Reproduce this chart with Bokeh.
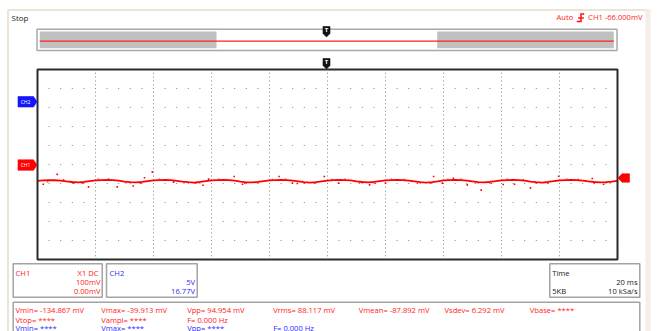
from bokeh.plotting import figure
from bokeh.models import Label, BoxAnnotation, PolyAnnotation
from bokeh.embed import file_html
from bokeh.resources import INLINE

# ---------------- data (CH1, mV, sampled every 2 ms) ----------------
time_ms = list(range(0, 201, 2))
ch1_mv = [-86, -84, -83, -83, -85, -89, -92, -94, -92, -88,
          -84, -82, -81, -82, -85, -90, -93, -94, -92, -87,
          -84, -82, -81, -82, -86, -90, -93, -95, -92, -88,
          -84, -82, -81, -82, -85, -90, -94, -94, -92, -87,
          -84, -82, -81, -82, -85, -89, -93, -95, -93, -89,
          -85, -82, -81, -82, -84, -89, -92, -94, -92, -88,
          -84, -82, -81, -82, -85, -89, -93, -95, -93, -89,
          -84, -82, -81, -82, -85, -89, -93, -94, -92, -88,
          -84, -82, -81, -82, -85, -90, -93, -95, -92, -88,
          -84, -82, -81, -82, -85, -89, -92, -94, -93, -90, -86]

# isolated noise samples (ms, mV)
spike_t = [6.8, 2.0, 17.6, 27.5, 36.9, 33.0, 39.6, 46.9, 57.1, 59.0,
           67.8, 70.7, 83.3, 87.9, 89.6, 98.9, 103.8, 114.5, 120.0, 136.6,
           139.6, 143.4, 148.2, 153.0, 160.6, 164.5, 170.0, 179.7, 191.3, 195.2]
spike_mv = [-52, -104, -118, -118, -70, -113, -40, -93, -109, -77,
            -63, -104, -63, -98, -100, -63, -98, -107, -98, -63,
            -98, -72, -107, -135, -105, -104, -123, -62, -74, -104]

# small deviations hugging the trace (ms, mV)
jitter_t = [3.5, 9.0, 12.5, 15.5, 21.0, 24.5, 30.5, 35.5, 42.0, 45.0,
            50.5, 54.5, 62.5, 65.0, 71.5, 76.0, 81.0, 85.5, 92.0, 95.5,
            101.5, 106.0, 111.0, 116.5, 122.0, 126.5, 131.0, 135.5, 141.5, 146.0,
            151.0, 156.5, 162.0, 167.5, 172.0, 176.0, 182.5, 186.5, 192.0, 197.5]
jitter_mv = [-91, -79, -99, -99, -77, -76, -97, -99, -77, -78,
             -97, -100, -77, -78, -99, -97, -78, -77, -99, -100,
             -78, -77, -98, -99, -77, -78, -99, -100, -78, -77,
             -98, -99, -77, -79, -99, -99, -77, -78, -99, -97]

ch1_label = "CH1"
ch2_label = "CH2"
ch1_info = ["X1  DC", "100mV", "0.00mV"]
ch2_info = ["5V", "16.77V"]
time_info = ["Time", "20 ms", "5KB", "10 kSa/s"]
meas_row1 = ["Vmin= -134.867 mV", "Vmax= -39.913 mV", "Vpp= 94.954 mV", "Vrms= 88.117 mV",
             "Vmean= -87.892 mV", "Vsdev= 6.292 mV", "Vbase= ****"]
meas_row2 = ["Vtop= ****", "Vampl= ****", "F= 0.000 Hz"]
meas_row3 = ["Vmin= ****", "Vmax= ****", "Vpp= ****", "F= 0.000 Hz"]
trigger_text = "CH1 -66.000mV"

# ---------------- layout constants (canvas pixels) ----------------
W, H = 660, 331
FL, FR, FT, FB = 37, 617, 69, 259          # scope screen area
T_SPAN, V_SPAN = 200.0, 1000.0             # 10 div x 20 ms, 10 div x 100 mV
kx = (FR - FL) / T_SPAN
ky = (FB - FT) / V_SPAN
FC = (FT + FB) / 2

RED = "#ff1a1a"
BLUE = "#2a2aff"
FONT = "Open Sans"

p = figure(width=W, height=H, output_backend="svg", toolbar_location=None,
           x_range=(-FL / kx, (W - FL) / kx), y_range=((FC - H) / ky, FC / ky),
           x_axis_location=None, y_axis_location=None, min_border=0)
p.grid.visible = False
p.background_fill_color = "white"
p.border_fill_color = "white"
p.outline_line_color = None


def X(px):
    return px


def Y(py):
    return H - py


def box(l, r, t, b, fill=None, line=None, lw=1.0):
    p.add_layout(BoxAnnotation(left=X(l), right=X(r), top=Y(t), bottom=Y(b),
                               left_units="screen", right_units="screen",
                               top_units="screen", bottom_units="screen",
                               fill_color=fill if fill else "white", fill_alpha=1 if fill else 0,
                               line_color=line if line else "white", line_alpha=1 if line else 0,
                               line_width=lw))


def poly(pts, fill):
    p.add_layout(PolyAnnotation(xs=[X(a) for a, b in pts], ys=[Y(b) for a, b in pts],
                                xs_units="screen", ys_units="screen",
                                fill_color=fill, fill_alpha=1, line_color=fill,
                                line_alpha=1, line_width=0.6))


def lab(text, px, py, color, size="7.6px", align="left", style="normal"):
    p.add_layout(Label(x=X(px), y=Y(py), x_units="screen", y_units="screen", text=text,
                       text_color=color, text_font_size=size, text_align=align,
                       text_baseline="middle", text_font=FONT, text_font_style=style))


# window frame
box(7.5, 647, 9.5, 345, line="#ebe5d6", lw=2)
box(645, 650, 9, 345, fill="#f3efe6")

# header
lab("Stop", 11, 16.7, "#222222", size="8px")
lab("Auto", 556, 16.7, RED)
lab(trigger_text, 642, 16.7, RED, align="right")
poly([(576.5, 20.5), (580, 20.5), (580, 13), (583.5, 13), (583.5, 14), (581, 14), (581, 21.5), (576.5, 21.5)], RED)
poly([(578, 17), (583, 17), (583, 18), (578, 18)], RED)

# overview
box(36.5, 616.5, 28.7, 50, fill="white", line="#a8a8a8", lw=1.5)
box(39.3, 216, 31, 47.7, fill="#c0c0c0")
box(436.7, 613.3, 31, 47.7, fill="#c0c0c0")
box(39.3, 613.3, 40.1, 41.3, fill="#ff2020")
poly([(322.5, 26), (329.5, 26), (329.5, 33), (326, 36.5), (322.5, 33)], "#111111")
lab("T", 326, 29.6, "white", size="6px", align="center", style="bold")
poly([(322.5, 58), (329.5, 58), (329.5, 65), (326, 68.5), (322.5, 65)], "#111111")
lab("T", 326, 61.6, "white", size="6px", align="center", style="bold")

# scope border, drawn on the data scales
p.add_layout(BoxAnnotation(left=0, right=T_SPAN, bottom=-V_SPAN / 2, top=V_SPAN / 2,
                           fill_alpha=0, line_color="#2a2a2a", line_alpha=1, line_width=2))

# channel tags
poly([(17.5, 96), (33, 96), (36.5, 101.2), (33, 106.5), (17.5, 106.5)], "#1414ff")
lab(ch2_label, 25, 101.2, "white", size="5px", align="center")
poly([(17.5, 159.3), (33, 159.3), (36.5, 164.5), (33, 169.8), (17.5, 169.8)], "#ff0000")
lab(ch1_label, 25, 164.5, "white", size="5px", align="center")
poly([(617.5, 177.5), (621.5, 173.3), (629, 173.3), (629, 181.7), (621.5, 181.7)], "#ff0000")

# info boxes
box(12.7, 101.7, 263.3, 296.7, fill="white", line="#a3a3a3", lw=1.5)
lab(ch1_label, 15, 272.3, RED)
lab(ch1_info[0], 100, 272.3, RED, align="right")
lab(ch1_info[1], 100, 281.7, RED, align="right")
lab(ch1_info[2], 100, 290.7, RED, align="right")

box(106, 196.7, 263.3, 296.7, fill="white", line="#a3a3a3", lw=1.5)
lab(ch2_label, 109, 272.3, BLUE)
lab(ch2_info[0], 194.5, 281.7, BLUE, align="right")
lab(ch2_info[1], 194.5, 290.7, BLUE, align="right")

box(549.3, 639.3, 263.3, 296.7, fill="white", line="#a3a3a3", lw=1.5)
lab(time_info[0], 551.7, 272.3, "#222222")
lab(time_info[1], 637, 281.3, "#222222", align="right")
lab(time_info[2], 551.7, 290.7, "#222222")
lab(time_info[3], 637, 290.7, "#222222", align="right")

box(12.7, 639.3, 301.7, 345, fill="white", line="#a3a3a3", lw=1.5)
cols = [15, 100.7, 186.7, 272.7, 358.3, 444, 529.3]
for i, t in enumerate(meas_row1):
    lab(t, cols[i], 309.5, RED)
for i, t in enumerate(meas_row2):
    lab(t, cols[i], 319, RED)
for i, t in enumerate(meas_row3):
    lab(t, cols[i], 327, BLUE)

# ---------------- scope grid (dots) ----------------
gx, gy = [], []
for xm in range(20, 200, 20):
    for ym in range(-500, 501, 20):
        gx.append(xm); gy.append(ym)
for ym in range(-400, 401, 100):
    for xm in range(4, 200, 4):
        if xm % 20:
            gx.append(xm); gy.append(ym)
p.rect(gx, gy, width=1, height=1, width_units="screen", height_units="screen",
       fill_color="#858585", line_color=None)

# ---------------- waveform ----------------
p.line(time_ms, ch1_mv, line_color="#ff0000", line_width=1.8)
p.rect(jitter_t, jitter_mv, width=1.5, height=1.2, width_units="screen", height_units="screen",
       fill_color="#ff2a2a", line_color=None)
p.rect(spike_t, spike_mv, width=1.6, height=1.6, width_units="screen", height_units="screen",
       fill_color="#ff0000", line_color=None)

open("out.html", "w").write(file_html(p, INLINE))
